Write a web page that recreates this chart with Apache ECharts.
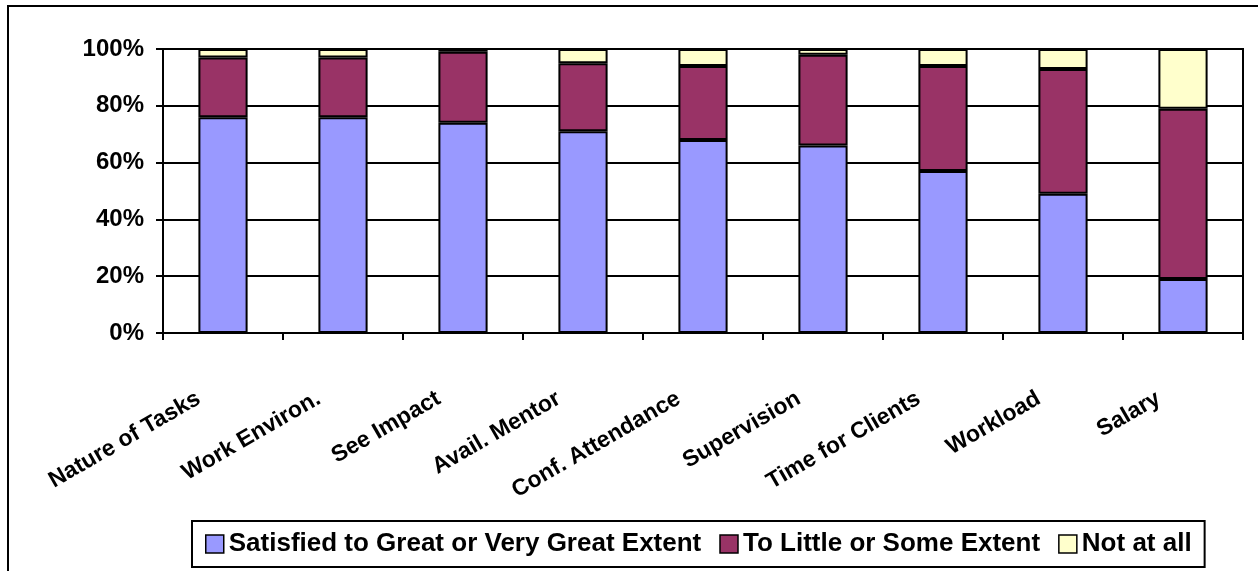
<!DOCTYPE html>
<html>
<head>
<meta charset="utf-8">
<script src="https://cdn.jsdelivr.net/npm/echarts@6/dist/echarts.min.js"></script>
<style>
html,body{margin:0;padding:0;background:#fff;}
#chart{width:1258px;height:571px;}
</style>
</head>
<body>
<div id="chart"></div>
<script>
const categories = ["Nature of Tasks","Work Environ.","See Impact","Avail. Mentor","Conf. Attendance","Supervision","Time for Clients","Workload","Salary"];
const seriesNames = ["Satisfied to Great or Very Great Extent","To Little or Some Extent","Not at all"];
const satisfied = [76,76,74,71,68,66,57,49,19];
const littleSome = [21,21,25,24,26,32,37,44,60];
const notAtAll = [3,3,1,5,6,2,6,7,21];
const colors = ["#9999FF","#993366","#FFFFCC"];

const chart = echarts.init(document.getElementById('chart'));
const font = "'Liberation Sans', Arial, sans-serif";
const mk = (name, data, color) => ({
  name, type: 'bar', stack: 'total', data, barWidth: '41%',
  itemStyle: {color, borderColor: '#000', borderWidth: 2},
  emphasis: {disabled: true}
});
chart.setOption({
  animation: false,
  graphic: [{type:'rect', shape:{x:8,y:6,width:1270,height:600}, style:{fill:'none', stroke:'#000', lineWidth:2}, z:-1}],
  grid: {left:163, right:15, top:49, bottom:238, show:true, borderColor:'#000', borderWidth:2, backgroundColor:'transparent'},
  legend: {
    top: 521, left: 192,
    data: seriesNames,
    icon: 'rect', itemWidth: 18, itemHeight: 18, itemGap: 18,
    padding: [9, 13, 9, 13],
    borderColor: '#000', borderWidth: 2,
    textStyle: {fontFamily: font, fontWeight: 'bold', fontSize: 26, lineHeight: 28, color:'#000'},
    itemStyle: {borderColor:'#000', borderWidth:1.5}
  },
  xAxis: {
    type: 'category', data: categories,
    axisLine: {lineStyle:{color:'#000', width:2}},
    axisTick: {show:true, length:7, lineStyle:{color:'#000', width:2}},
    axisLabel: {rotate: 30, interval: 0, margin: 50, color:'#000', fontFamily: font, fontWeight:'bold', fontSize:23, padding:[0,28,0,0]}
  },
  yAxis: {
    type: 'value', min: 0, max: 100, interval: 20,
    axisLine: {show:true, lineStyle:{color:'#000', width:2}},
    axisTick: {show:true, length:7, lineStyle:{color:'#000', width:2}},
    splitLine: {lineStyle:{color:'#000', width:2}},
    axisLabel: {formatter: '{value}%', margin: 19, color:'#000', fontFamily: font, fontWeight:'bold', fontSize:24}
  },
  series: [
    mk(seriesNames[0], satisfied, colors[0]),
    mk(seriesNames[1], littleSome, colors[1]),
    mk(seriesNames[2], notAtAll, colors[2])
  ]
});
</script>
</body>
</html>
